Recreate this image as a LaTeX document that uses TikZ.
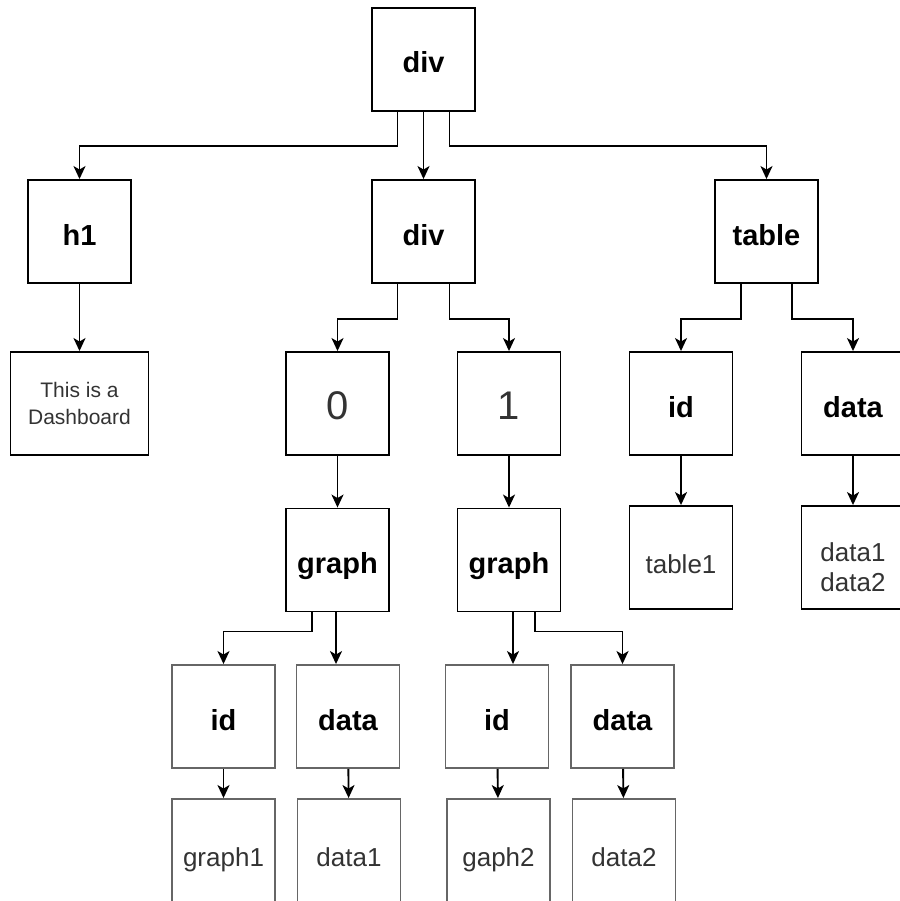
\documentclass[tikz,border=0pt]{standalone}
\usepackage{fontspec}
\setmainfont{Liberation Sans}
\usepackage{tikz}
\usetikzlibrary{arrows.meta, positioning}

\begin{document}
\begin{tikzpicture}[node distance=172pt]
	\tikzstyle{tag} = [rectangle, minimum width=103pt, minimum height=103pt, inner sep=0pt, draw=black, line width=1.9pt, text height=27pt, text depth=0pt, font=\bfseries\fontsize{29}{34}\selectfont]
	
	\tikzstyle{index} = [tag, text=black!80, text height=32pt, font=\fontsize{40}{44}\selectfont]
	
	\tikzstyle{leaf} = [tag, text=black!80, align=center, text height=31pt, font=\fontsize{26}{30}\selectfont]
	
	\tikzstyle{note} = [leaf, minimum width=138pt, text height=42pt, text depth=0pt, font=\fontsize{21}{27}\selectfont]
	
	\tikzstyle{arrow} = [-{Stealth[length=13pt, width=12pt, inset=3.5pt]}, line width=1.9pt]
	
	\useasboundingbox (0,0) rectangle (899pt,-901pt);
	
	% Root of the tree
	\node (tdiv) [tag] at (423.5pt,-59.5pt) {div};
	
	% Level 1 nodes
	\node (h1) [tag, below of = tdiv, xshift=-344pt] {h1};
	\node (mdiv) [tag, below of = tdiv] {div};
	\node (table) [tag, below of = tdiv, xshift=343pt] {table};
	
	% Level 2 nodes
	\node (dash) [note, below of = h1] {This is a\\Dashboard};
	\node (n0) [index, below of = mdiv, xshift=-86pt] {0};
	\node (n1) [index, below of = mdiv, xshift=85.5pt] {1};
	\node (tid) [tag, below of = table, xshift=-85.5pt] {id};
	\node (tdata) [tag, below of = table, xshift=86.5pt] {data};
	
	% Level 3 nodes
	\node (g0) [tag, below of = n0, yshift=15.5pt] {graph};
	\node (g1) [tag, below of = n1, yshift=15.5pt] {graph};
	\node (table1) [leaf, below of = tid, yshift=18pt] {table1};
	\node (tdata2) [leaf, below of = tdata, yshift=18pt, text height=68pt] {data1\\data2};
	
	% Level 4 nodes
	\node (gid0) [tag, draw=black!60, below of = g0, xshift=-114pt, yshift=15.5pt] {id};
	\node (gdata0) [tag, draw=black!60, below of = g0, xshift=10.5pt, yshift=15.5pt] {data};
	\node (gid1) [tag, draw=black!60, below of = g1, xshift=-12pt, yshift=15.5pt] {id};
	\node (gdata1) [tag, draw=black!60, below of = g1, xshift=113.5pt, yshift=15.5pt] {data};
	
	% Level 5 nodes
	\node (graph1) [leaf, draw=black!60, below of = gid0, yshift=38pt] {graph1};
	\node (data1) [leaf, draw=black!60, below of = gdata0, xshift=1pt, yshift=38pt] {data1};
	\node (gaph2) [leaf, draw=black!60, below of = gid1, xshift=1.5pt, yshift=38pt] {gaph2};
	\node (data2) [leaf, draw=black!60, below of = gdata1, xshift=1.5pt, yshift=38pt] {data2};
	
	% Arrows
	\draw [arrow] ([xshift=-26pt]tdiv.south) -- ++(0,-34pt) -| (h1);
	\draw [arrow] (tdiv) -- (mdiv);
	\draw [arrow] ([xshift=26pt]tdiv.south) -- ++(0,-34pt) -| (table);
	
	\draw [arrow] (h1) -- (dash);
	\draw [arrow] ([xshift=-26pt]mdiv.south) -- ++(0,-35pt) -| (n0);
	\draw [arrow] ([xshift=26pt]mdiv.south) -- ++(0,-35pt) -| (n1);
	\draw [arrow] ([xshift=-25.5pt]table.south) -- ++(0,-35pt) -| (tid);
	\draw [arrow] ([xshift=25.5pt]table.south) -- ++(0,-35pt) -| (tdata);
	
	\draw [arrow] (n0) -- (g0);
	\draw [arrow] (n1) -- (g1);
	\draw [arrow] (tid) -- (table1);
	\draw [arrow] (tdata) -- (tdata2);
	
	\draw [arrow] ([xshift=-25.5pt]g0.south) -- ++(0,-19pt) -| (gid0);
	\draw [arrow] ([xshift=-1.5pt]g0.south) -- ([xshift=-1.5pt]g0.south |- gdata0.north);
	\draw [arrow] ([xshift=4pt]g1.south) -- ([xshift=4pt]g1.south |- gid1.north);
	\draw [arrow] ([xshift=26pt]g1.south) -- ++(0,-19pt) -| (gdata1);
	
	\draw [arrow] (gid0) -- (graph1);
	\draw [arrow] (gdata0) -- (data1);
	\draw [arrow] (gid1) -- (gaph2);
	\draw [arrow] (gdata1) -- (data2);
\end{tikzpicture}
\end{document}
